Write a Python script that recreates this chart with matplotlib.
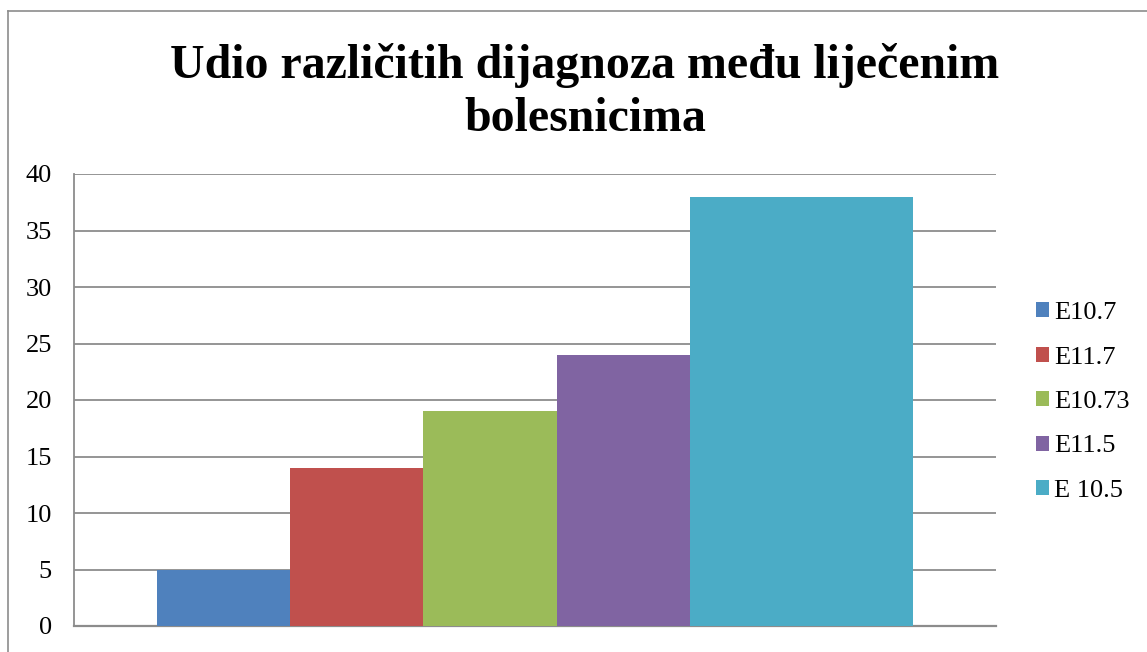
import matplotlib
matplotlib.use("Agg")
import matplotlib.pyplot as plt
from matplotlib.patches import Patch
from matplotlib.lines import Line2D

# Data
title_lines = ["Udio različitih dijagnoza među liječenim", "bolesnicima"]
series = ["E10.7", "E11.7", "E10.73", "E11.5", "E 10.5"]
values = [5, 14, 19, 24, 38]
y_ticks = [0, 5, 10, 15, 20, 25, 30, 35, 40]

# Style
colors = ["#4F81BD", "#C0504D", "#9BBB59", "#8064A2", "#4BACC6"]
widths = [1, 1, 1, 1, 223 / 133]
gap = 83 / 133
grid_col = "#8c8c8c"

plt.rcParams["font.family"] = ["Liberation Serif", "DejaVu Serif"]

W, H = 1147, 652
fig = plt.figure(figsize=(W / 100, H / 100), dpi=100)
fig.patch.set_facecolor("white")

ax = fig.add_axes([74 / W, 1 - 626 / H, (996 - 74) / W, (626 - 174) / H])

left = gap
for name, v, w, c in zip(series, values, widths, colors):
    ax.bar(left, v, width=w, align="edge", color=c, label=name, zorder=3)
    left += w
ax.set_xlim(0, left + gap)
ax.set_ylim(0, 40)
ax.set_yticks(y_ticks)
ax.set_yticklabels([str(t) for t in y_ticks], fontsize=19)
ax.set_xticks([])
ax.tick_params(axis="y", length=0, pad=16)
ax.yaxis.grid(True, color=grid_col, linewidth=1.3, zorder=0)
ax.set_axisbelow(True)
for s in ["top", "right"]:
    ax.spines[s].set_visible(False)
ax.spines["left"].set_color(grid_col)
ax.spines["left"].set_linewidth(1.3)
ax.spines["bottom"].set_color(grid_col)
ax.spines["bottom"].set_linewidth(1.6)

# Legend
handles = [Patch(facecolor=c, edgecolor="none") for c in colors]
fig.legend(handles, series, loc="center left", bbox_to_anchor=(1036 / W, 1 - 402 / H),
           frameon=False, fontsize=19, handlelength=0.5, handleheight=0.5,
           handletextpad=0.2, labelspacing=0.85, borderpad=0, borderaxespad=0)

# Title
fig.text(585 / W, 1 - 78 / H, title_lines[0], ha="center", va="baseline",
         fontsize=34.5, fontweight="bold")
fig.text(585 / W, 1 - 131 / H, title_lines[1], ha="center", va="baseline",
         fontsize=34.5, fontweight="bold")

# Outer frame (extends beyond the image on right and bottom)
fig.add_artist(Line2D([8 / W, 8 / W], [0, 1 - 11 / H], transform=fig.transFigure,
                      color=grid_col, linewidth=1.2))
fig.add_artist(Line2D([8 / W, 1], [1 - 11 / H, 1 - 11 / H], transform=fig.transFigure,
                      color=grid_col, linewidth=1.2))

fig.savefig("out.png", dpi=100)
